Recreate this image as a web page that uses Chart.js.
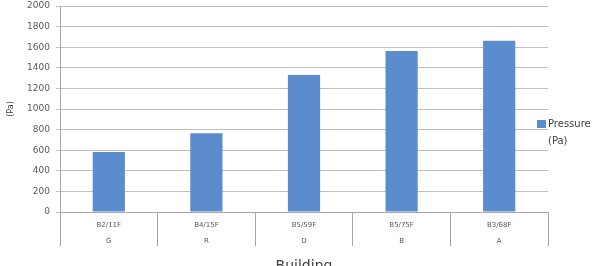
<!DOCTYPE html>
<html lang="en">
<head>
  <meta charset="UTF-8" />
  <title>Pressure by Building</title>
  <script src="https://cdn.jsdelivr.net/npm/chart.js"></script>
  <style>
    body { margin: 0; padding: 0; background: #fff; }
    #wrap { width: 599px; height: 266px; }
  </style>
</head>
<body>
  <div id="wrap"><canvas id="chart" width="599" height="266"></canvas></div>

  <script>
    const floors = ["B2/11F", "B4/15F", "B5/59F", "B5/75F", "B3/68F"];
    const buildings = ["G", "R", "D", "B", "A"];
    const pressure = [582, 765, 1330, 1563, 1662];
    const seriesName = ["Pressure", "(Pa)"];

    const labels = floors.map((f, i) => [f, buildings[i]]);

    // legend drawn by hand because it wraps onto two lines
    const legendPlugin = {
      id: 'sideLegend',
      afterDraw(chart) {
        const ctx = chart.ctx;
        const area = chart.chartArea;
        const x = area.right - 11;
        const y = area.top + 114;
        ctx.save();
        ctx.fillStyle = '#5b8cce';
        ctx.fillRect(x, y, 9, 8);
        ctx.fillStyle = '#404040';
        ctx.font = '10px "DejaVu Sans"';
        ctx.textBaseline = 'middle';
        ctx.fillText(seriesName[0], x + 11, y + 4);
        ctx.fillText(seriesName[1], x + 11, y + 21);
        ctx.restore();
      }
    };

    new Chart(document.getElementById('chart'), {
      type: 'bar',
      data: {
        labels: labels,
        datasets: [{
          label: seriesName.join(' '),
          data: pressure,
          backgroundColor: '#5b8cce',
          categoryPercentage: 1,
          barPercentage: 0.33
        }]
      },
      options: {
        responsive: false,
        animation: false,
        layout: { padding: { top: 6, right: 51, left: 0, bottom: 0 } },
        plugins: { legend: { display: false }, tooltip: { enabled: false } },
        scales: {
          x: {
            grid: {
              offset: true,
              drawOnChartArea: false,
              tickLength: 34,
              color: '#a6a6a6'
            },
            border: { color: '#a6a6a6' },
            ticks: {
              maxRotation: 0,
              autoSkip: false,
              padding: -29,
              color: '#595959',
              font: { family: 'DejaVu Sans', size: 7, lineHeight: 2.3 }
            },
            title: {
              display: true,
              text: 'Building',
              color: '#404040',
              font: { family: 'DejaVu Sans', size: 14 },
              padding: { top: 4, bottom: -9 }
            },
            afterFit(scale) { scale.height = 54; }
          },
          y: {
            min: 0,
            max: 2000,
            ticks: {
              stepSize: 200,
              padding: 6,
              color: '#595959',
              font: { family: 'DejaVu Sans', size: 9 },
              callback: (v) => String(v)
            },
            grid: { color: '#bfbfbf', tickLength: 4 },
            border: { color: '#a6a6a6' },
            title: {
              display: true,
              text: '(Pa)',
              color: '#404040',
              font: { family: 'DejaVu Sans', size: 8 },
              padding: { top: 6, bottom: 0 }
            },
            afterFit(scale) {
              scale.width = 60;
              scale.paddingTop = 0;
            }
          }
        }
      },
      plugins: [legendPlugin]
    });
  </script>
</body>
</html>
